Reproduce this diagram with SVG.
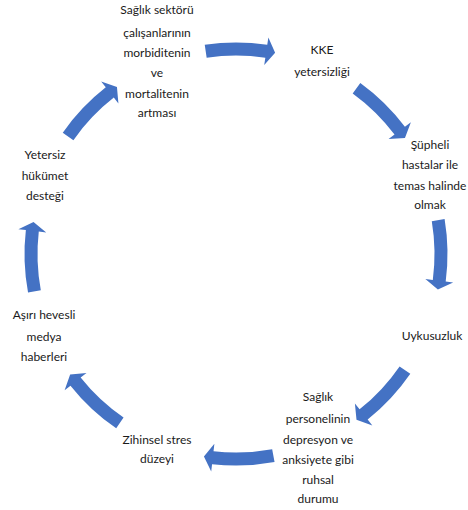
<svg xmlns="http://www.w3.org/2000/svg" xmlns:xlink="http://www.w3.org/1999/xlink" width="468" height="510" viewBox="0 0 468 510">
<style>
.t{font-family:Lato,"Liberation Sans",sans-serif;font-size:12px;fill:#1a1a1a;text-anchor:middle}
.a{fill:#4472C4}
</style>
<defs>
<path id="arr" class="a" d="M-33.09,-208.90 A211.5,211.5 0 0 1 29.43,-209.44 L30.48,-216.87 L37.36,-201.57 L26.58,-189.14 L27.63,-196.57 A198.5,198.5 0 0 0 -31.05,-196.06 Z"/>
</defs>
<rect width="468" height="510" fill="#ffffff"/>
<g id="connectors">
<use xlink:href="#arr" transform="translate(236,254) rotate(0.5)"/>
<use xlink:href="#arr" transform="translate(236,254) rotate(45)"/>
<use xlink:href="#arr" transform="translate(236,254) rotate(89.5)"/>
<use xlink:href="#arr" transform="translate(236,254) rotate(133.5)"/>
<use xlink:href="#arr" transform="translate(236,254) rotate(178.5)"/>
<use xlink:href="#arr" transform="translate(236,254) rotate(223.5)"/>
<use xlink:href="#arr" transform="translate(236,254) rotate(268.5)"/>
<use xlink:href="#arr" transform="translate(236,254) rotate(314)"/>
</g>
<g id="n1"><text class="t" x="157" y="14">Sağlık sektörü</text><text class="t" x="157" y="37">çalışanlarının</text><text class="t" x="157" y="57">morbiditenin</text><text class="t" x="157" y="77">ve</text><text class="t" x="157" y="98">mortalitenin</text><text class="t" x="157" y="117">artması</text></g>
<g id="n2"><text class="t" x="322" y="54">KKE</text><text class="t" x="322" y="76">yetersizliği</text></g>
<g id="n3"><text class="t" x="430" y="149">Şüpheli</text><text class="t" x="430" y="169">hastalar ile</text><text class="t" x="430" y="190">temas halinde</text><text class="t" x="430" y="209">olmak</text></g>
<g id="n4"><text class="t" x="432" y="340">Uykusuzluk</text></g>
<g id="n5"><text class="t" x="318" y="401">Sağlık</text><text class="t" x="318" y="423">personelinin</text><text class="t" x="318" y="444">depresyon ve</text><text class="t" x="318" y="464">anksiyete gibi</text><text class="t" x="318" y="484">ruhsal</text><text class="t" x="318" y="503">durumu</text></g>
<g id="n6"><text class="t" x="157" y="444">Zihinsel stres</text><text class="t" x="157" y="463">düzeyi</text></g>
<g id="n7"><text class="t" x="44" y="319">Aşırı hevesli</text><text class="t" x="44" y="341">medya</text><text class="t" x="44" y="361">haberleri</text></g>
<g id="n8"><text class="t" x="45" y="159">Yetersiz</text><text class="t" x="45" y="180">hükümet</text><text class="t" x="45" y="200">desteği</text></g>
</svg>
